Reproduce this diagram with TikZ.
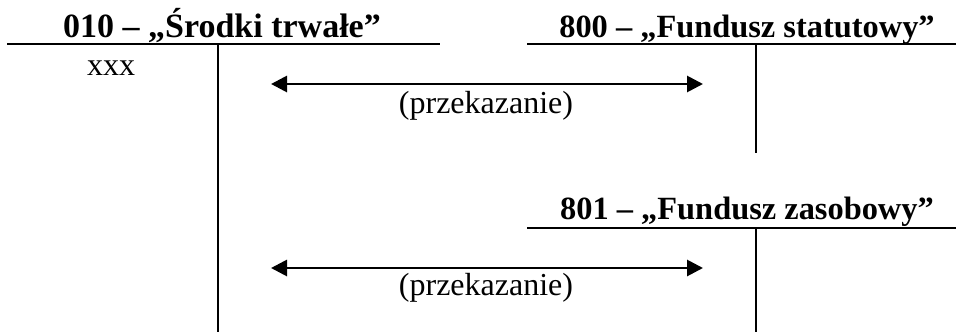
\documentclass[tikz,border=0pt]{standalone}
\usepackage{fontspec}
\setmainfont{Liberation Serif}
\usepackage{tikz}
\usetikzlibrary{arrows.meta, positioning}
\tikzstyle{account} = [font=\fontsize{16.2}{19}\selectfont\bfseries, anchor=base, inner sep=0pt]
\tikzstyle{entry} = [font=\fontsize{16}{19}\selectfont, anchor=base, inner sep=0pt]
\tikzstyle{line} = [draw, line width=1pt]
\tikzstyle{transfer} = [draw, line width=1.4pt, {Triangle[length=8pt,width=8pt]}-{Triangle[length=8pt,width=8pt]}]

\begin{document}
\begin{tikzpicture}[x=0.5pt, y=-0.5pt]
			\useasboundingbox (0, 0) rectangle (956, 332);
			% konto 010
			\node [account, font=\fontsize{17}{20}\selectfont\bfseries] (fixed) at (222, 37) {010 – „Środki trwałe”};
			\node [entry] (xxx) at (111, 75) {xxx};
			\path [line] (7, 44) -- (440, 44);
			\path [line] (218, 44) -- (218, 332);
			
			% konto 800
			\node [account] (statutory) at (747, 37) {800 – „Fundusz statutowy”};
			\path [line] (527, 44) -- (956, 44);
			\path [line] (756, 44) -- (756, 153);
			
			% konto 801
			\node [account] (reserve) at (747, 219) {801 – „Fundusz zasobowy”};
			\path [line] (527, 228) -- (956, 228);
			\path [line] (756, 228) -- (756, 332);
			
			% przekazania
			\coordinate (a1) at (271, 84);
			\coordinate (b1) at (703, 84);
			\coordinate (a2) at (271, 268);
			\coordinate (b2) at (703, 268);
			\path [transfer] (a1) -- (b1);
			\path [transfer] (a2) -- (b2);
			\node [entry] (transfer1) at (486, 113) {(przekazanie)};
			\node [entry] (transfer2) at (486, 295) {(przekazanie)};
		\end{tikzpicture}
\end{document}
